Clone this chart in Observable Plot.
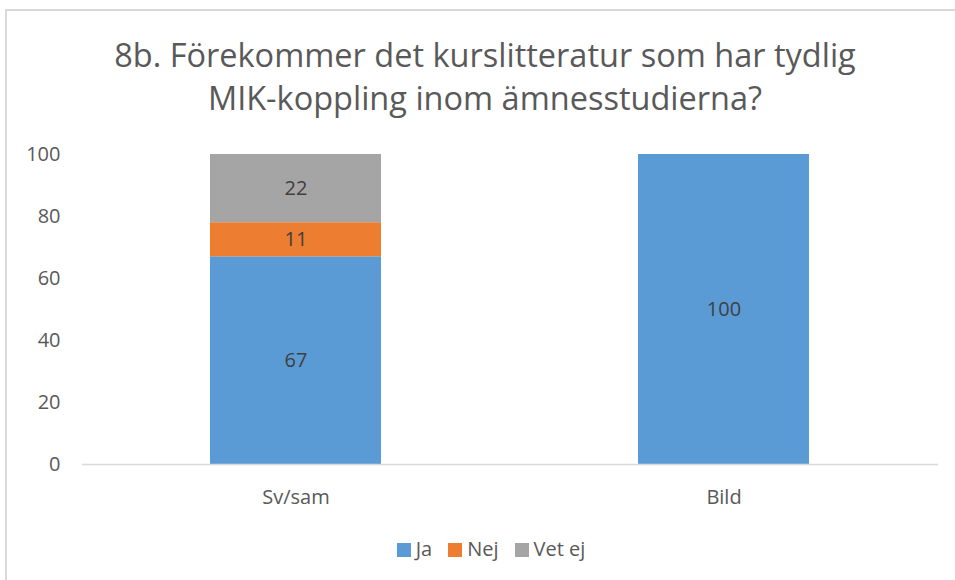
<!DOCTYPE html>
<html>
<head>
<meta charset="utf-8">
<script src="https://cdn.jsdelivr.net/npm/d3@7"></script>
<script src="https://cdn.jsdelivr.net/npm/@observablehq/plot@0.6"></script>
<style>
  html, body { margin: 0; padding: 0; background: #fff; }
  #wrap { position: relative; width: 955px; height: 580px; overflow: hidden; font-family: "Open Sans", sans-serif; }
  #frame { position: absolute; left: 5px; top: 9px; width: 1200px; height: 800px; border-left: 2px solid #d9d9d9; border-top: 2px solid #d9d9d9; }
  #title { position: absolute; left: 0; width: 970px; top: 33px; text-align: center; font-size: 32.5px; line-height: 43px; color: #595959; }
  #chart { position: absolute; left: 0; top: 0; }
  #chart svg g[aria-label="y-axis tick label"], #chart svg g[aria-label="x-axis tick label"] { font-size: 20px; }
  #legend { position: absolute; left: 0; width: 982px; top: 535px; text-align: center; font-size: 20px; color: #595959; }
  #legend span.item { display: inline-block; margin: 0 8px; }
  #legend span.sw { display: inline-block; width: 14px; height: 14px; margin-right: 5px; vertical-align: -1px; }
</style>
</head>
<body>
<div id="wrap">
  <div id="frame"></div>
  <div id="chart"></div>
  <div id="title">8b. Förekommer det kurslitteratur som har tydlig<br>MIK-koppling inom ämnesstudierna?</div>
  <div id="legend"></div>
</div>
<script>
const categories = ["Sv/sam", "Bild"];
const series = ["Ja", "Nej", "Vet ej"];
const colors = ["#5B9BD5", "#ED7D31", "#A5A5A5"];
const valuesJa = [67, 100];
const valuesNej = [11, 0];
const valuesVetEj = [22, 0];
const yTicks = [0, 20, 40, 60, 80, 100];

const seriesValues = [valuesJa, valuesNej, valuesVetEj];
const data = [];
series.forEach((s, si) => {
  categories.forEach((c, ci) => {
    const v = seriesValues[si][ci];
    if (v > 0) data.push({category: c, series: s, value: v});
  });
});

const chart = Plot.plot({
  width: 955,
  height: 580,
  marginTop: 154,
  marginBottom: 116,
  marginLeft: 82,
  marginRight: 17,
  style: {fontFamily: "Open Sans, sans-serif", fontSize: "20px", color: "#595959", background: "transparent"},
  x: {domain: categories, paddingInner: 0.6, paddingOuter: 0.3, label: null},
  y: {domain: [0, 100], ticks: yTicks, label: null},
  color: {domain: series, range: colors},
  marks: [
    Plot.barY(data, {x: "category", y: "value", fill: "series", z: "series", order: series}),
    Plot.ruleY([0], {stroke: "#d9d9d9", strokeWidth: 1.5}),
    Plot.text(data, Plot.stackY({x: "category", y: "value", z: "series", order: series, text: d => String(d.value), fill: "#404040", fontSize: 20})),
    Plot.axisY({ticks: yTicks, tickSize: 0, tickPadding: 22, fontSize: 20, fill: "#595959", label: null}),
    Plot.axisX({tickSize: 0, tickPadding: 25, fontSize: 20, fill: "#595959", label: null})
  ]
});
document.getElementById("chart").appendChild(chart);

const legend = document.getElementById("legend");
series.forEach((s, i) => {
  const item = document.createElement("span");
  item.className = "item";
  const sw = document.createElement("span");
  sw.className = "sw";
  sw.style.background = colors[i];
  item.appendChild(sw);
  item.appendChild(document.createTextNode(s));
  legend.appendChild(item);
});
</script>
</body>
</html>
